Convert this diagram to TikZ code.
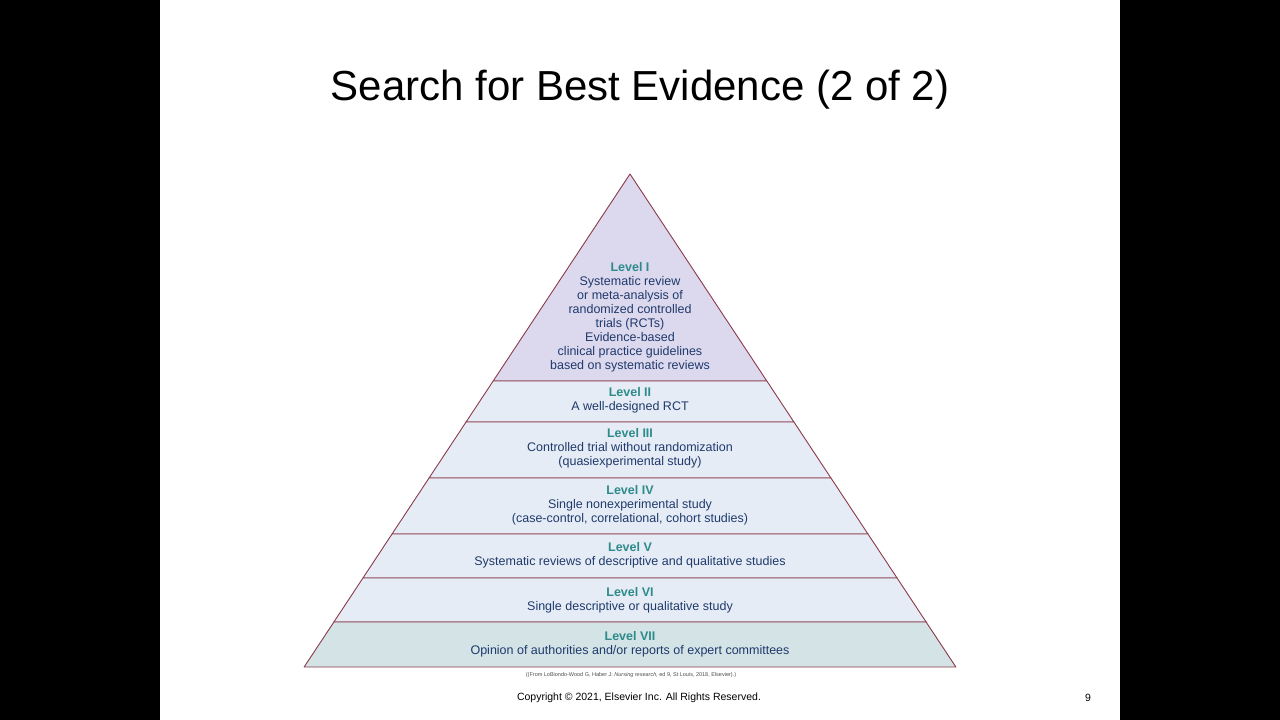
\documentclass[tikz,border=0pt]{standalone}
\usepackage{fontspec}
\setmainfont{Liberation Sans}
\definecolor{bandtop}{HTML}{DCD8EE}
\definecolor{bandmid}{HTML}{E6ECF6}
\definecolor{bandlow}{HTML}{D3E3E6}
\definecolor{edgered}{HTML}{8B3A4A}
\definecolor{levelteal}{HTML}{2E8B8B}
\definecolor{textnavy}{HTML}{1F3A6B}
\newcommand{\lvl}[1]{{\bfseries\color{levelteal}#1}}
\tikzset{
  band/.style={draw=edgered, line width=0.9pt, line join=round},
  levelbox/.style={align=center, text=textnavy, font=\fontsize{12.5}{14}\selectfont, inner sep=0pt}
}
\begin{document}
\begin{tikzpicture}[x=1pt, y=-1pt]
\useasboundingbox (0,0) rectangle (1280,720);
\fill[black] (0,0) rectangle (160,720);
\fill[black] (1120,0) rectangle (1280,720);
\node (title) at (640,90) {\fontsize{42}{48}\selectfont Search for Best Evidence (2 of 2)};
% pyramid bands: apex (630,174), half width 0.661 per px
\coordinate (apex) at (630,174);
\foreach \y/\name in {381/a,422/b,478/c,534/d,578/e,622/f,667/g}{
  \pgfmathsetmacro{\hw}{0.661*(\y-174)}
  \coordinate (\name l) at (630-\hw,\y);
  \coordinate (\name r) at (630+\hw,\y);
}
\filldraw[band, fill=bandtop] (apex) -- (ar) -- (al) -- cycle;
\foreach \u/\v in {a/b,b/c,c/d,d/e,e/f}
  \filldraw[band, fill=bandmid] (\u l) -- (\u r) -- (\v r) -- (\v l) -- cycle;
\filldraw[band, fill=bandlow] (fl) -- (fr) -- (gr) -- (gl) -- cycle;
\node[levelbox] (lone) at (630,317) {\lvl{Level I}\\Systematic review\\or meta-analysis of\\randomized controlled\\trials (RCTs)\\Evidence-based\\clinical practice guidelines\\based on systematic reviews};
\node[levelbox] (ltwo) at (630,400) {\lvl{Level II}\\A well-designed RCT};
\node[levelbox] (lthree) at (630,448) {\lvl{Level III}\\Controlled trial without randomization\\(quasiexperimental study)};
\node[levelbox] (lfour) at (630,505) {\lvl{Level IV}\\Single nonexperimental study\\(case-control, correlational, cohort studies)};
\node[levelbox] (lfive) at (630,555) {\lvl{Level V}\\Systematic reviews of descriptive and qualitative studies};
\node[levelbox] (lsix) at (630,600) {\lvl{Level VI}\\Single descriptive or qualitative study};
\node[levelbox] (lseven) at (630,644) {\lvl{Level VII}\\Opinion of authorities and/or reports of expert committees};
\node[text=black!70, font=\fontsize{5.5}{6}\selectfont] (source) at (631,675) {((From LoBiondo-Wood G, Haber J: \textit{Nursing research,} ed 9, St Louis, 2018, Elsevier).)};
\node[font=\fontsize{10.5}{12}\selectfont] (copy) at (639,698) {Copyright © 2021, Elsevier Inc. All Rights Reserved.};
\node[font=\fontsize{10.5}{12}\selectfont] (page) at (1088,698) {9};
\end{tikzpicture}
\end{document}
